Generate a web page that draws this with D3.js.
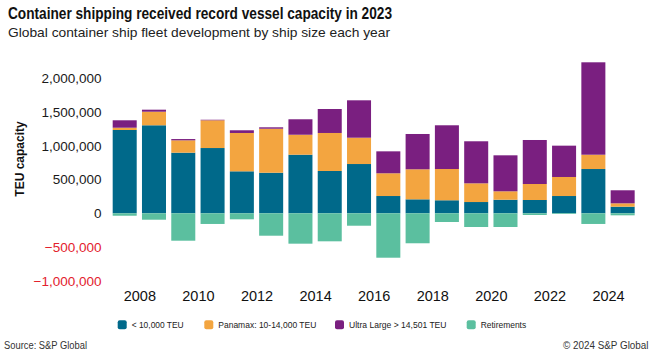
<!DOCTYPE html>
<html><head><meta charset="utf-8">
<script src="https://cdn.jsdelivr.net/npm/d3@7"></script>
<style>
html,body{margin:0;padding:0;background:#fff;}
svg{display:block;font-family:"Liberation Sans",Arial,Helvetica,sans-serif;}
</style></head>
<body><svg id="c" width="649" height="356"></svg>
<script>
const years = [2007,2008,2009,2010,2011,2012,2013,2014,2015,2016,2017,2018,2019,2020,2021,2022,2023,2024];
const small   = [1234000,1304000,898000,967000,622000,601000,868000,627000,730000,256000,207000,193000,167000,201000,197000,256000,656000,98000];
const panamax = [34000,201000,183000,411000,568000,652000,296000,563000,390000,337000,445000,463000,277000,125000,237000,282000,212000,50000];
const ultra   = [110000,30000,19000,8000,40000,21000,229000,355000,554000,325000,523000,648000,623000,533000,652000,464000,1369000,193000];
const retire  = [-36000,-95000,-406000,-158000,-89000,-332000,-450000,-415000,-184000,-658000,-444000,-129000,-203000,-203000,-25000,-10000,-158000,-30000];
const yTicks = [-1000000,-500000,0,500000,1000000,1500000,2000000];
const xTicks = [2008,2010,2012,2014,2016,2018,2020,2022,2024];
const seriesKeys = ["small","panamax","ultra","retire"];
const seriesNames = ["< 10,000 TEU","Panamax: 10-14,000 TEU","Ultra Large > 14,501 TEU","Retirements"];
const colors = ["#00698a","#f3a540","#7a1f80","#5bbf9f"];

const svg = d3.select("#c");
const rows = years.map((y,i)=>({year:y, small:small[i], panamax:panamax[i], ultra:ultra[i], retire:retire[i]}));

const x0 = 110.05, x1 = 637.3;
const xBand = d3.scaleBand().domain(years).range([x0,x1]).paddingInner(0.18).paddingOuter(0.09);
const xLin = d3.scaleLinear().domain([years[0], years[years.length-1]+1]).range([x0,x1]);
const y = d3.scaleLinear().domain([-1000000,2000000]).range([280.8,78.3]);

const stack = d3.stack().keys(seriesKeys).offset(d3.stackOffsetDiverging);
const layers = stack(rows);

svg.append("g").selectAll("g").data(layers).join("g")
  .attr("fill",(d,i)=>colors[i])
  .selectAll("rect").data(d=>d).join("rect")
  .attr("x",d=>xBand(d.data.year))
  .attr("width",xBand.bandwidth())
  .attr("y",d=>y(Math.max(d[0],d[1])))
  .attr("height",d=>Math.abs(y(d[0])-y(d[1])));

// Y axis
const yAxis = svg.append("g").attr("transform","translate(104,0)")
  .call(d3.axisLeft(y).tickValues(yTicks).tickSize(0).tickPadding(2.5).tickFormat(d3.format(",")));
yAxis.select(".domain").remove();
yAxis.selectAll("text").attr("font-size","13.5px").attr("font-family","Liberation Sans, Arial, sans-serif")
  .attr("fill",d=>d<0?"#e3212d":"#1a1a1a");

// X axis
const xAxis = svg.append("g").attr("transform","translate(0,291)")
  .call(d3.axisBottom(xLin).tickValues(xTicks).tickSize(0).tickPadding(0).tickFormat(d3.format("d")));
xAxis.select(".domain").remove();
xAxis.selectAll("text").attr("font-size","14.5px").attr("font-family","Liberation Sans, Arial, sans-serif").attr("fill","#111");

// Y title
svg.append("text").attr("transform","translate(24,159) rotate(-90)")
  .attr("text-anchor","middle").attr("font-size","12px").attr("font-weight","bold").attr("fill","#111")
  .text("TEU capacity");

// Title & subtitle
svg.append("text").attr("x",8).attr("y",19).attr("font-size","16px").attr("font-weight","bold").attr("fill","#111")
  .attr("textLength",384).attr("lengthAdjust","spacingAndGlyphs")
  .text("Container shipping received record vessel capacity in 2023");
svg.append("text").attr("x",8).attr("y",36.5).attr("font-size","13.5px").attr("fill","#222")
  .attr("textLength",382).attr("lengthAdjust","spacingAndGlyphs")
  .text("Global container ship fleet development by ship size each year");

// Legend
const legX = [117.7,204.3,335,466.7];
const legW = [52,98,97.5,45.5];
const leg = svg.append("g");
seriesNames.forEach((n,i)=>{
  leg.append("rect").attr("x",legX[i]).attr("y",320.3).attr("width",9).attr("height",9).attr("rx",2)
    .attr("fill",colors[i]);
  leg.append("text").attr("x",legX[i]+14).attr("y",328).attr("font-size","9.5px").attr("fill","#222")
    .attr("textLength",legW[i]).attr("lengthAdjust","spacingAndGlyphs").text(n);
});

// Footer
svg.append("text").attr("x",4).attr("y",349).attr("font-size","10px").attr("fill","#333")
  .attr("textLength",83).attr("lengthAdjust","spacingAndGlyphs").text("Source: S&P Global");
svg.append("text").attr("x",563).attr("y",349).attr("font-size","10px").attr("fill","#333")
  .attr("textLength",85.5).attr("lengthAdjust","spacingAndGlyphs").text("© 2024 S&P Global");
</script></body></html>
